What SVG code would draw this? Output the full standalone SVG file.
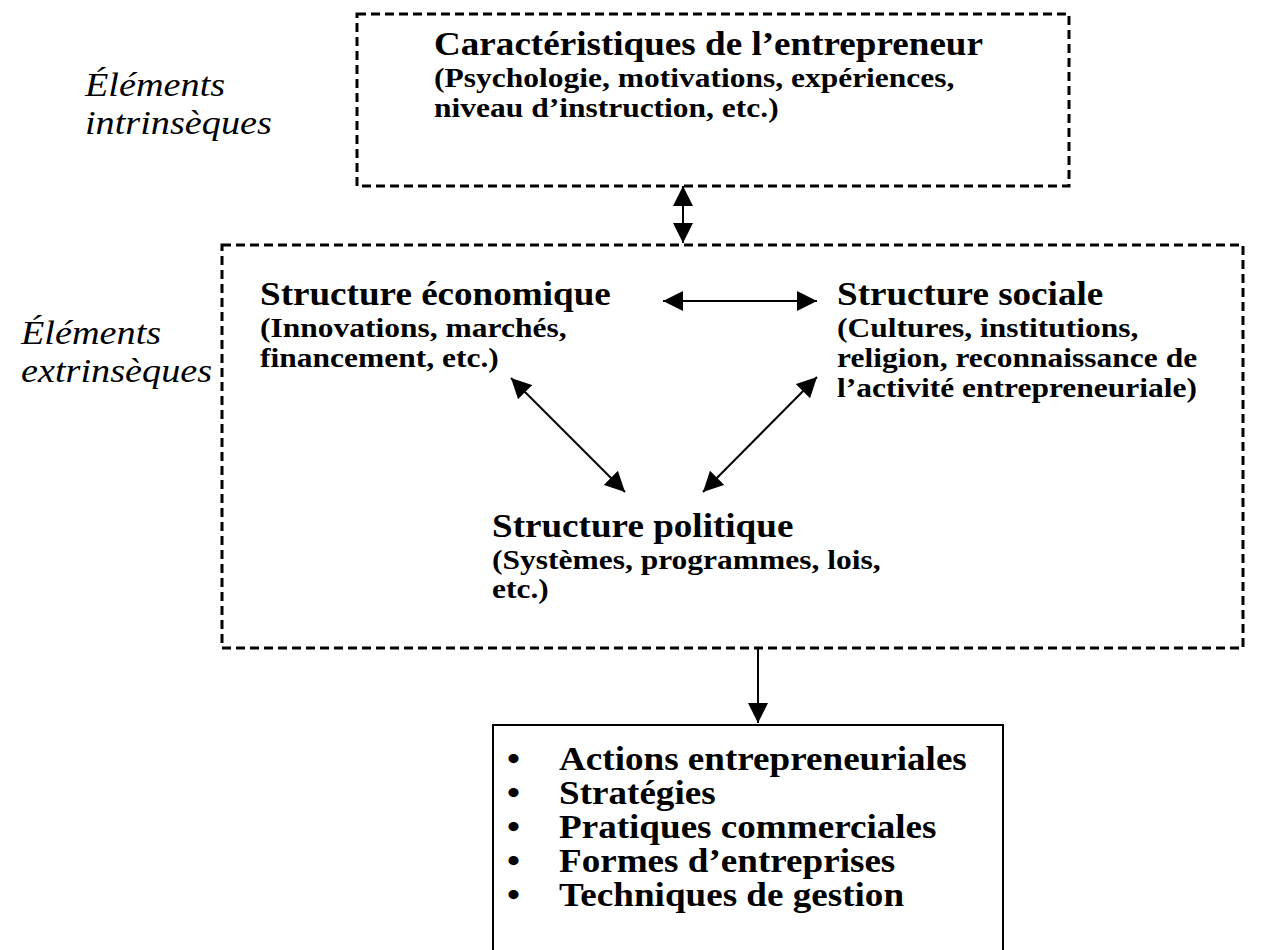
<svg xmlns="http://www.w3.org/2000/svg" width="1266" height="950" viewBox="0 0 1266 950">
  <style>
    .frame { fill: none; stroke: #000; stroke-width: 3; stroke-dasharray: 9 5; }
    .solid { fill: none; stroke: #000; stroke-width: 2; }
    .conn { fill: none; stroke: #000; stroke-width: 2; marker-end: url(#head); }
    .both { marker-start: url(#head); }
    text { font-family: "Liberation Serif", "Times New Roman", serif; fill: #000; }
    .title { font-size: 33px; font-weight: bold; }
    .sub { font-size: 28px; font-weight: bold; }
    .side { font-size: 34px; font-style: italic; }
    .item { font-size: 33px; font-weight: bold; }
  </style>
  <defs>
    <marker id="head" markerUnits="userSpaceOnUse" markerWidth="20" markerHeight="20" refX="20" refY="10" orient="auto-start-reverse">
      <path d="M0,0 L20,10 L0,20 z" fill="#000"/>
    </marker>
  </defs>
  <rect width="1266" height="950" fill="#fff"/>

  <!-- side labels -->
  <g id="label-intrinsic" transform="translate(85 0) scale(1.125 1)">
    <text class="side" x="0" y="96">Éléments</text>
    <text class="side" x="0" y="134">intrinsèques</text>
  </g>
  <g id="label-extrinsic" transform="translate(21 0) scale(1.125 1)">
    <text class="side" x="0" y="344">Éléments</text>
    <text class="side" x="0" y="382">extrinsèques</text>
  </g>

  <!-- entrepreneur characteristics -->
  <g id="entrepreneur">
    <rect class="frame" x="357" y="14" width="712" height="172"/>
    <g transform="translate(434 0) scale(1.125 1)">
      <text class="title" x="0" y="55">Caractéristiques de l’entrepreneur</text>
      <text class="sub" x="0" y="87">(Psychologie, motivations, expériences,</text>
      <text class="sub" x="0" y="117">niveau d’instruction, etc.)</text>
    </g>
  </g>

  <!-- environment frame -->
  <g id="environment">
    <rect class="frame" x="222" y="245" width="1021" height="403"/>
  </g>

  <g id="economic" transform="translate(260 0) scale(1.125 1)">
    <text class="title" x="0" y="305">Structure économique</text>
    <text class="sub" x="0" y="337">(Innovations, marchés,</text>
    <text class="sub" x="0" y="367">financement, etc.)</text>
  </g>

  <g id="social" transform="translate(837 0) scale(1.125 1)">
    <text class="title" x="0" y="305">Structure sociale</text>
    <text class="sub" x="0" y="337">(Cultures, institutions,</text>
    <text class="sub" x="0" y="367">religion, reconnaissance de</text>
    <text class="sub" x="0" y="397">l’activité entrepreneuriale)</text>
  </g>

  <g id="political" transform="translate(492 0) scale(1.125 1)">
    <text class="title" x="0" y="537">Structure politique</text>
    <text class="sub" x="0" y="569">(Systèmes, programmes, lois,</text>
    <text class="sub" x="0" y="598">etc.)</text>
  </g>

  <!-- outcomes -->
  <g id="outcomes">
    <rect class="solid" x="493" y="725" width="510" height="300"/>
    <g transform="translate(507 0) scale(1.125 1)">
      <text class="item" x="0" y="770">•</text>
      <text class="item" x="0" y="804">•</text>
      <text class="item" x="0" y="838">•</text>
      <text class="item" x="0" y="872">•</text>
      <text class="item" x="0" y="906">•</text>
    </g>
    <g transform="translate(559 0) scale(1.125 1)">
      <text class="item" x="0" y="770">Actions entrepreneuriales</text>
      <text class="item" x="0" y="804">Stratégies</text>
      <text class="item" x="0" y="838">Pratiques commerciales</text>
      <text class="item" x="0" y="872">Formes d’entreprises</text>
      <text class="item" x="0" y="906">Techniques de gestion</text>
    </g>
  </g>

  <!-- connectors -->
  <g id="connectors">
    <line class="conn both" x1="683" y1="186" x2="683" y2="243"/>
    <line class="conn both" x1="663" y1="301" x2="817" y2="301"/>
    <line class="conn both" x1="511" y1="378" x2="625" y2="492"/>
    <line class="conn both" x1="817" y1="377" x2="703" y2="492"/>
    <line class="conn" x1="758" y1="648" x2="758" y2="723"/>
  </g>
</svg>
